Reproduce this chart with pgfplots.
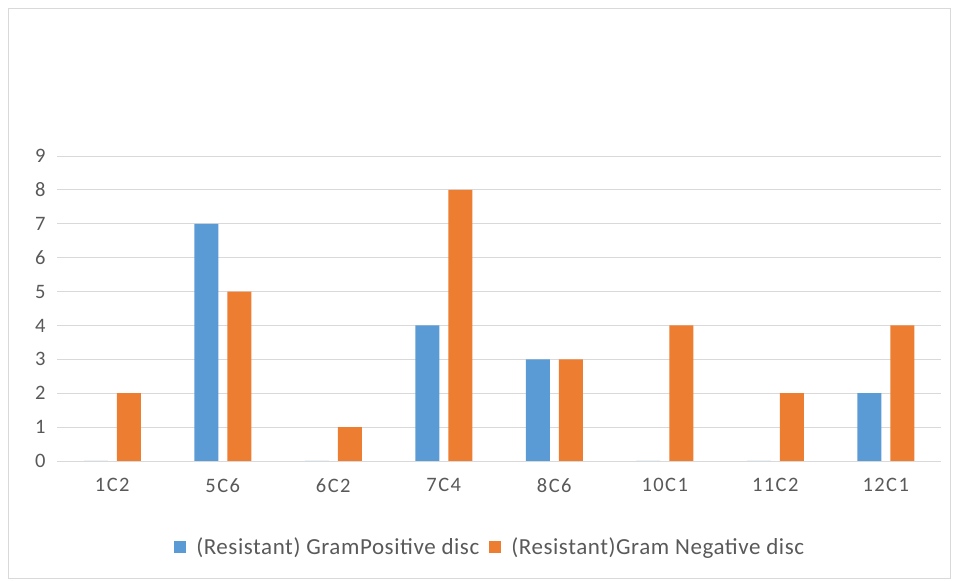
\documentclass[border=0pt]{standalone}
\usepackage{pgfplots}
\pgfplotsset{compat=1.18}
\usepackage{fontspec}
\setmainfont{Carlito}
\newfontfamily\tickfont[LetterSpace=7]{Carlito}
\newfontfamily\legfont[LetterSpace=2.5]{Carlito}
\definecolor{cblue}{RGB}{91,155,213}
\definecolor{corange}{RGB}{237,125,49}
\definecolor{txt}{RGB}{89,89,89}
\definecolor{gridc}{RGB}{217,217,217}
\begin{document}
\begin{tikzpicture}[x=1pt,y=1pt]
\path[use as bounding box] (0,0) rectangle (959,581);
\draw[gridc] (8.5,3) rectangle (950.5,572.5);
\begin{axis}[
  at={(57pt,120pt)}, anchor=south west,
  scale only axis, width=884pt, height=305pt,
  ybar=9pt, bar width=24pt,
  xmin=-0.5, xmax=7.5, ymin=0, ymax=9,
  xtick=data,
  xticklabels={1C2,5C6,6C2,7C4,8C6,10C1,11C2,12C1},
  ytick={0,1,...,9},
  ymajorgrids, grid style={gridc, line width=0.8pt},
  axis line style={draw=none},
  major tick length=0pt,
  tick label style={font=\tickfont\fontsize{20.5}{24}\selectfont, text=txt},
  /pgf/number format/assume math mode=true,
  yticklabel style={xshift=-8pt},
  xticklabel style={yshift=-14pt},
  legend style={at={(0.49,-0.282)}, anchor=center, draw=none, fill=none,
    font=\legfont\fontsize{23}{26}\selectfont, text=txt,
    legend columns=2,
    /tikz/every even column/.append style={column sep=8pt}},
  clip=false,
]
\addplot[fill=cblue, draw=none, legend image code/.code={\fill[cblue] (0pt,-6pt) rectangle (12pt,6pt); \path (20pt,0pt);}]
  coordinates {(0,0) (1,7) (2,0) (3,4) (4,3) (5,0) (6,0) (7,2)};
\addlegendentry{(Resistant) GramPositive disc}
\addplot[fill=corange, draw=none, legend image code/.code={\fill[corange] (0pt,-6pt) rectangle (12pt,6pt); \path (20pt,0pt);}]
  coordinates {(0,2) (1,5) (2,1) (3,8) (4,3) (5,4) (6,2) (7,4)};
\addlegendentry{(Resistant)Gram Negative disc}
\end{axis}
\end{tikzpicture}
\end{document}
